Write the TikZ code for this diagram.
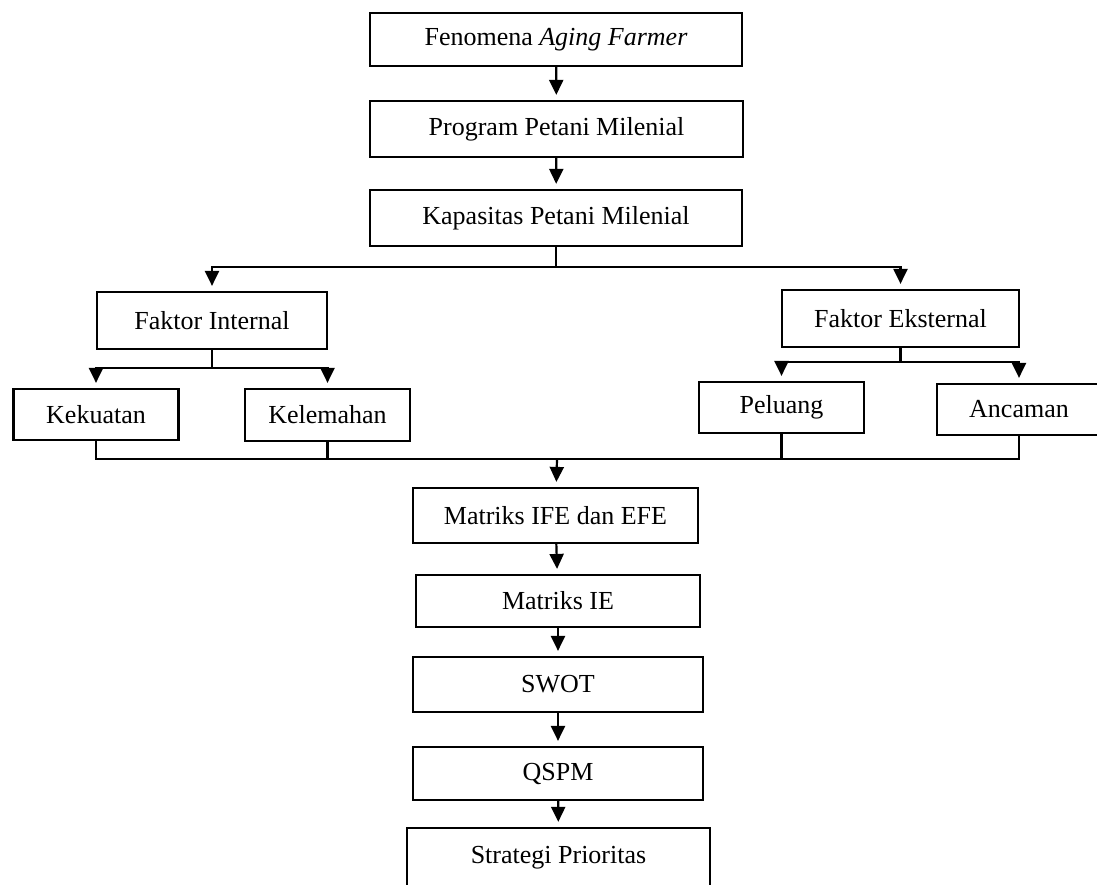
\documentclass[tikz,border=0pt]{standalone}
\usepackage{fontspec}
\setmainfont{Liberation Serif}
\usetikzlibrary{arrows.meta}
\begin{document}
\begin{tikzpicture}[x=1pt,y=-1pt]
    \tikzstyle{box}=[draw=black,line width=2.2pt,rectangle,inner sep=0pt,font=\fontsize{26}{30}\selectfont]
    \tikzstyle{flow}=[line width=2.2pt,-{Triangle[width=14pt,length=15pt]},shorten >=5pt]
    \tikzstyle{bus}=[line width=2.2pt]

    \useasboundingbox (0,0) rectangle (1097,884);
    \clip (0,0) rectangle (1097,884);

    \node[box,minimum width=372pt,minimum height=53pt] at (556,39.5) (fenomena) {Fenomena \textit{Aging Farmer}};
    \node[box,minimum width=373pt,minimum height=56pt] at (556.5,129) (program) {Program Petani Milenial};
    \node[box,minimum width=372pt,minimum height=56pt] at (556,218) (kapasitas) {Kapasitas Petani Milenial};
    \node[box,minimum width=230pt,minimum height=57pt] at (212,320.5) (internal) {Faktor Internal};
    \node[box,minimum width=237pt,minimum height=57pt] at (900.5,318.5) (eksternal) {Faktor Eksternal};
    \node[box,minimum width=165pt,minimum height=51pt] at (96,414.5) (kekuatan) {Kekuatan};
    \node[box,minimum width=165pt,minimum height=52pt] at (327.5,415) (kelemahan) {Kelemahan};
    \node[box,minimum width=165pt,minimum height=51pt] at (781.5,407.5) (peluang) {Peluang};
    \node[box,minimum width=164pt,minimum height=51pt] at (1019,409.5) (ancaman) {Ancaman};
    \node[box,minimum width=285pt,minimum height=55pt] at (555.5,515.5) (ife) {Matriks IFE dan EFE};
    \node[box,minimum width=284pt,minimum height=52pt] at (558,601) (ie) {Matriks IE};
    \node[box,minimum width=290pt,minimum height=55pt] at (558,684.5) (swot) {SWOT};
    \node[box,minimum width=290pt,minimum height=53pt] at (558,773.5) (qspm) {QSPM};
    \node[box,minimum width=303pt,minimum height=60pt] at (558.5,858) (strategi) {Strategi Prioritas};
    \coordinate (gabung) at (557,459);

    \draw[flow] (fenomena) -- (program);
    \draw[flow] (program) -- (kapasitas);
    \draw[flow] (kapasitas.south) -- ++(0,20) -| (internal.north);
    \draw[flow] (kapasitas.south) -- ++(0,20) -| (eksternal.north);
    \draw[flow] (internal.south) -- ++(0,18) -| (kekuatan.north);
    \draw[flow] (internal.south) -- ++(0,18) -| (kelemahan.north);
    \draw[flow] (eksternal.south) -- ++(0,14) -| (peluang.north);
    \draw[flow] (eksternal.south) -- ++(0,14) -| (ancaman.north);

    \draw[bus] (kekuatan.south) |- (ancaman.south |- gabung) -- (ancaman.south);
    \draw[bus] (kelemahan.south) -- (kelemahan.south |- gabung);
    \draw[bus] (peluang.south) -- (peluang.south |- gabung);
    \draw[flow] (gabung) -- (ife);
    \draw[flow] (ife) -- (ie);
    \draw[flow] (ie) -- (swot);
    \draw[flow] (swot) -- (qspm);
    \draw[flow] (qspm) -- (strategi);
\end{tikzpicture}
\end{document}
